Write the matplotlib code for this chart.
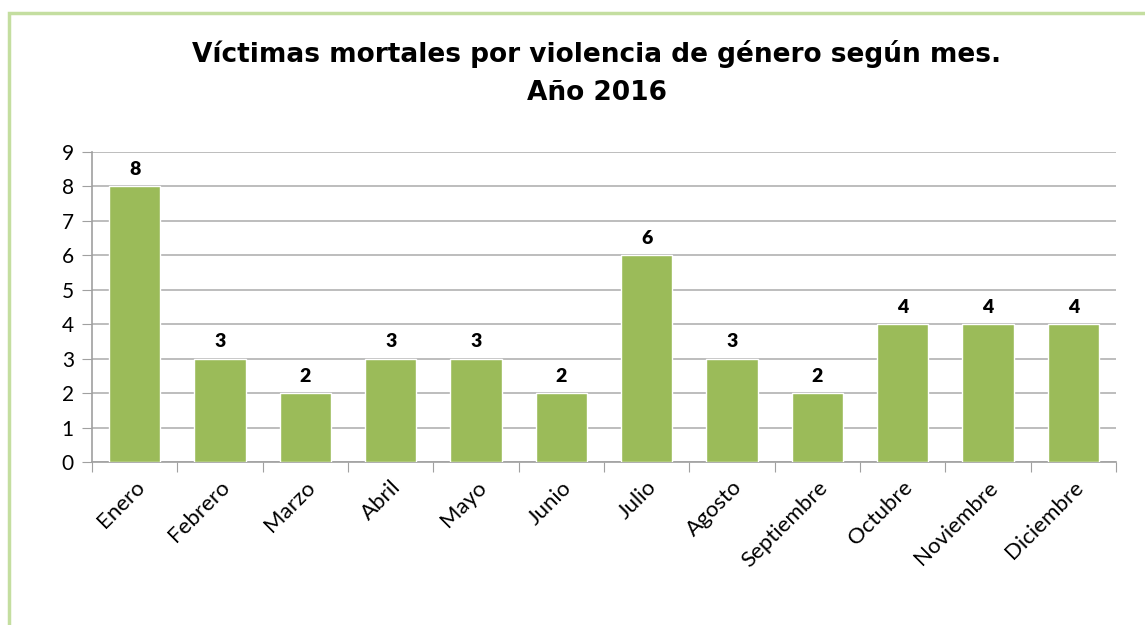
import numpy as np
import matplotlib.pyplot as plt
from matplotlib.patches import Rectangle

# datos
meses = ['Enero', 'Febrero', 'Marzo', 'Abril', 'Mayo', 'Junio', 'Julio',
         'Agosto', 'Septiembre', 'Octubre', 'Noviembre', 'Diciembre']
victimas = [8, 3, 2, 3, 3, 2, 6, 3, 2, 4, 4, 4]
yticks = list(range(0, 10))

plt.rcParams['font.family'] = ['Lato', 'DejaVu Sans']

fig = plt.figure(figsize=(11.45, 6.25), dpi=100)
ax = fig.add_axes([0.0803, 0.2608, 0.8944, 0.496])

# marco verde del grafico
fig.patches.append(Rectangle((9/1145, -0.1), 1.2, 1 - 13/625 + 0.1,
                             transform=fig.transFigure, fill=False,
                             edgecolor='#c4dea0', linewidth=2.5))

x = np.arange(len(meses))
ax.bar(x, victimas, width=0.6, color='#9bbb59', edgecolor='white',
       linewidth=1, zorder=3)
for xi, v in zip(x, victimas):
    ax.text(xi, v + 0.25, str(v), ha='center', va='bottom',
            fontsize=14, fontweight='heavy', color='black')

ax.set_xlim(-0.5, len(meses) - 0.5)
ax.set_ylim(0, 9)
ax.set_yticks(yticks)
ax.set_yticklabels([str(t) for t in yticks], fontsize=15)
ax.yaxis.grid(True, color='#b2b2b2', linewidth=1.2, zorder=0)
ax.tick_params(axis='y', length=7, color='#a0a0a0', pad=6)

# ticks entre categorias, etiquetas en el centro
ax.set_xticks(np.arange(-0.5, len(meses)), minor=False)
ax.set_xticklabels([])
ax.set_xticks(x, minor=True)
ax.set_xticklabels(meses, minor=True, rotation=45, ha='right',
                   rotation_mode='anchor', fontsize=16)
ax.tick_params(axis='x', which='major', length=7, color='#a0a0a0')
ax.tick_params(axis='x', which='minor', length=0, pad=11)

for s in ['top', 'right']:
    ax.spines[s].set_visible(False)
for s in ['left', 'bottom']:
    ax.spines[s].set_color('#a0a0a0')
    ax.spines[s].set_linewidth(1.2)

fig.text(0.521, 0.883, 'Víctimas mortales por violencia de género según mes.\nAño 2016',
         ha='center', va='center', fontsize=19, fontweight='bold',
         family='DejaVu Sans', linespacing=1.6)

fig.savefig('out.png', dpi=100)
